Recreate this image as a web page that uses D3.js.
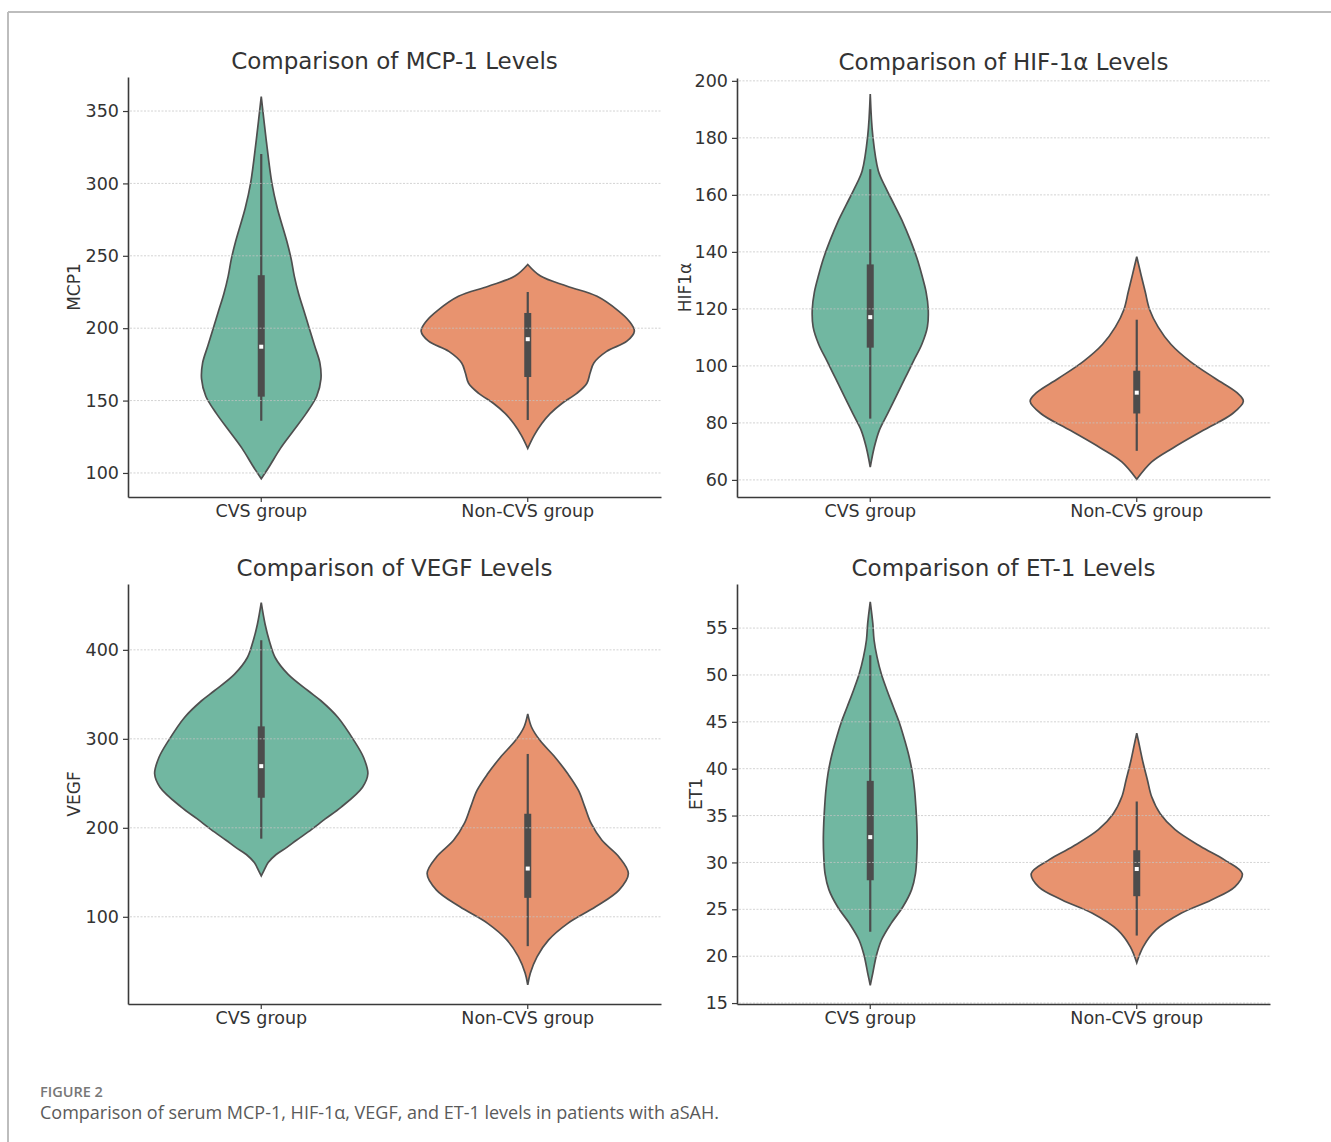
<!DOCTYPE html>
<html>
<head>
<meta charset="utf-8">
<script src="https://cdn.jsdelivr.net/npm/d3@7"></script>
<style>
  body { margin: 0; background: #fff; }
  svg { display: block; }
  .tick text { font-family: "DejaVu Sans", sans-serif; fill: #333; }
</style>
</head>
<body>
<svg id="fig" width="1331" height="1142"></svg>
<script>
const groups = ["CVS group", "Non-CVS group"];
const colors = ["#71b7a1", "#e8936f"];

// violin outlines: value levels and half-width (1 = full violin width)
const mcpCvsLevels = [96, 105, 117, 129, 141, 153, 165, 176, 188, 200, 212, 224, 236, 248, 260, 283, 300, 331, 360];
const mcpCvsWidths = [0, 0.08, 0.18, 0.30, 0.42, 0.52, 0.56, 0.55, 0.50, 0.45, 0.40, 0.35, 0.31, 0.28, 0.24, 0.15, 0.10, 0.045, 0];
const mcpNonLevels = [117, 126, 134, 141, 148, 155, 162, 169, 176, 184, 191, 198, 205, 212, 222, 229, 236, 244];
const mcpNonWidths = [0, 0.06, 0.13, 0.21, 0.32, 0.46, 0.555, 0.585, 0.62, 0.74, 0.93, 1.0, 0.95, 0.85, 0.65, 0.37, 0.12, 0];

const hifCvsLevels = [64.5, 71.2, 77.3, 83.3, 89.4, 95.5, 101.6, 107.6, 113.7, 119.8, 125.9, 131.9, 138, 144.1, 150.2, 156.3, 162.3, 168.4, 180.6, 195.4];
const hifCvsWidths = [0, 0.036, 0.084, 0.164, 0.244, 0.324, 0.404, 0.484, 0.536, 0.544, 0.524, 0.484, 0.436, 0.376, 0.308, 0.228, 0.148, 0.076, 0.024, 0];
const hifNonLevels = [60.2, 66.3, 71.2, 77.3, 83.3, 87.6, 90.6, 95.5, 101.6, 107.6, 113.7, 119.8, 125.9, 132, 138.3];
const hifNonWidths = [0, 0.14, 0.34, 0.62, 0.90, 1.0, 0.94, 0.74, 0.50, 0.32, 0.20, 0.12, 0.08, 0.04, 0];

const vegfCvsLevels = [146, 152, 161, 170, 178, 186, 198, 210, 223.3, 245.7, 260.7, 279, 298, 324, 342.8, 354, 372.7, 391.4, 410, 428.8, 453];
const vegfCvsWidths = [0, 0.025, 0.065, 0.14, 0.24, 0.33, 0.47, 0.6, 0.75, 0.95, 1.0, 0.96, 0.87, 0.72, 0.56, 0.44, 0.25, 0.13, 0.076, 0.036, 0];
const vegfNonLevels = [23.5, 36.5, 55.2, 74, 92.6, 111.2, 130, 148.6, 167.3, 186, 204.6, 223.3, 242, 260.7, 279.3, 298, 313, 328];
const vegfNonWidths = [0, 0.024, 0.088, 0.196, 0.376, 0.636, 0.856, 0.944, 0.856, 0.696, 0.596, 0.536, 0.476, 0.376, 0.256, 0.116, 0.036, 0];

const etCvsLevels = [16.9, 18.2, 20, 21.7, 23.5, 25.3, 27.1, 28.8, 30.6, 32.4, 34.2, 35.9, 37.7, 39.5, 41.3, 43, 44.8, 46.6, 48.4, 50.1, 51.9, 53.7, 55.5, 57.8];
const etCvsWidths = [0, 0.024, 0.056, 0.104, 0.196, 0.308, 0.388, 0.424, 0.436, 0.44, 0.436, 0.428, 0.416, 0.396, 0.364, 0.324, 0.276, 0.216, 0.156, 0.104, 0.064, 0.036, 0.024, 0];
const etNonLevels = [19.3, 21, 22.8, 24.6, 26, 27.4, 28.8, 30.3, 31.7, 33.5, 35.2, 37, 38.8, 40.6, 42.3, 43.8];
const etNonWidths = [0, 0.06, 0.18, 0.42, 0.70, 0.92, 0.99, 0.82, 0.60, 0.36, 0.22, 0.14, 0.10, 0.06, 0.028, 0];

// box stats per group: [whisker low, q1, median, q3, whisker high]
const mcpBox = [[136, 152.7, 187.2, 236.6, 320.3], [136.6, 166.3, 192.4, 210.5, 225]];
const hifBox = [[81.5, 106.4, 117.1, 135.6, 169], [70.2, 83.3, 90.6, 98.3, 116.2]];
const vegfBox = [[187.8, 233.8, 269.3, 314, 410.8], [67, 121.3, 154.2, 215.8, 283]];
const etBox = [[22.6, 28.1, 32.7, 38.7, 52.1], [22.2, 26.4, 29.3, 31.3, 36.5]];

const mcpTicks = [100, 150, 200, 250, 300, 350];
const hifTicks = [60, 80, 100, 120, 140, 160, 180, 200];
const vegfTicks = [100, 200, 300, 400];
const etTicks = [15, 20, 25, 30, 35, 40, 45, 50, 55];

const panels = [
  { title: "Comparison of MCP-1 Levels", ylabel: "MCP1", domain: [83.4, 373.5], ticks: mcpTicks,
    violins: [[mcpCvsLevels, mcpCvsWidths], [mcpNonLevels, mcpNonWidths]], box: mcpBox,
    left: 128, right: 661, top: 77, bottom: 497, labelX: 75 },
  { title: "Comparison of HIF-1\u03b1 Levels", ylabel: "HIF1\u03b1", domain: [54, 201], ticks: hifTicks,
    violins: [[hifCvsLevels, hifCvsWidths], [hifNonLevels, hifNonWidths]], box: hifBox,
    left: 737, right: 1270, top: 78, bottom: 497, labelX: 686 },
  { title: "Comparison of VEGF Levels", ylabel: "VEGF", domain: [2, 474], ticks: vegfTicks,
    violins: [[vegfCvsLevels, vegfCvsWidths], [vegfNonLevels, vegfNonWidths]], box: vegfBox,
    left: 128, right: 661, top: 584, bottom: 1004, labelX: 75 },
  { title: "Comparison of ET-1 Levels", ylabel: "ET1", domain: [14.9, 59.7], ticks: etTicks,
    violins: [[etCvsLevels, etCvsWidths], [etNonLevels, etNonWidths]], box: etBox,
    left: 737, right: 1270, top: 584, bottom: 1004, labelX: 697 }
];

const svg = d3.select("#fig");

// frame lines of the figure
svg.append("line").attr("x1", 8).attr("x2", 1331).attr("y1", 12).attr("y2", 12)
  .attr("stroke", "#bdbdbd").attr("stroke-width", 2);
svg.append("line").attr("x1", 8).attr("x2", 8).attr("y1", 12).attr("y2", 1142)
  .attr("stroke", "#bdbdbd").attr("stroke-width", 2);

panels.forEach(p => {
  const g = svg.append("g");
  const x = d3.scaleBand().domain(groups).range([p.left, p.right]).padding(0);
  const y = d3.scaleLinear().domain(p.domain).range([p.bottom, p.top]);
  const w = d3.scaleLinear().domain([0, 1]).range([0, x.bandwidth() * 0.4]);

  // violins
  p.violins.forEach((vl, i) => {
    const cx = x(groups[i]) + x.bandwidth() / 2;
    const pts = vl[0].map((v, k) => ({ v: v, w: vl[1][k] }));
    const area = d3.area()
      .y(d => y(d.v))
      .x0(d => cx - w(d.w))
      .x1(d => cx + w(d.w))
      .curve(d3.curveCatmullRom.alpha(0.5));
    g.append("path").attr("d", area(pts))
      .attr("fill", colors[i]).attr("stroke", "#4f4f4f").attr("stroke-width", 1.7);

    const b = p.box[i];
    g.append("line").attr("x1", cx).attr("x2", cx)
      .attr("y1", y(b[0])).attr("y2", y(b[4]))
      .attr("stroke", "#4c4c4c").attr("stroke-width", 2.2);
    g.append("rect").attr("x", cx - 3.5).attr("width", 7)
      .attr("y", y(b[3])).attr("height", y(b[1]) - y(b[3]))
      .attr("fill", "#4c4c4c");
    g.append("rect").attr("x", cx - 2).attr("width", 4)
      .attr("y", y(b[2]) - 2).attr("height", 4)
      .attr("fill", "#fff");
  });

  // grid on top, faint
  g.selectAll(".grid").data(p.ticks).enter().append("line")
    .attr("x1", p.left + 2).attr("x2", p.right)
    .attr("y1", d => y(d)).attr("y2", d => y(d))
    .attr("stroke", "#c4c4c4").attr("stroke-opacity", 0.75)
    .attr("stroke-width", 1).attr("stroke-dasharray", "2,1.5");

  const yAxis = g.append("g").attr("transform", "translate(" + p.left + ",0)")
    .call(d3.axisLeft(y).tickValues(p.ticks).tickSize(5).tickSizeOuter(0).tickPadding(4));
  const xAxis = g.append("g").attr("transform", "translate(0," + p.bottom + ")")
    .call(d3.axisBottom(x).tickSize(5).tickSizeOuter(0).tickPadding(3));
  [yAxis, xAxis].forEach(a => {
    a.select(".domain").attr("stroke", "#3a3a3a").attr("stroke-width", 1.6);
    a.selectAll(".tick line").attr("stroke", "#3a3a3a").attr("stroke-width", 1.2);
    a.selectAll(".tick text").style("font-size", "17.5px");
  });

  g.append("text")
    .attr("x", (p.left + p.right) / 2).attr("y", p.top - 8)
    .attr("text-anchor", "middle")
    .style("font-family", "DejaVu Sans, sans-serif").style("font-size", "23px").style("fill", "#333")
    .text(p.title);

  g.append("text")
    .attr("transform", "translate(" + p.labelX + "," + ((p.top + p.bottom) / 2) + ") rotate(-90)")
    .attr("text-anchor", "middle").attr("dominant-baseline", "middle")
    .style("font-family", "DejaVu Sans, sans-serif").style("font-size", "17px").style("fill", "#333")
    .text(p.ylabel);
});

svg.append("text").attr("x", 40).attr("y", 1097)
  .style("font-family", "Open Sans, sans-serif").style("font-size", "14.5px").style("font-weight", "600")
  .style("fill", "#777").text("FIGURE 2");
svg.append("text").attr("x", 40).attr("y", 1119)
  .style("font-family", "Open Sans, sans-serif").style("font-size", "18px")
  .style("fill", "#5a5a5a").text("Comparison of serum MCP-1, HIF-1\u03b1, VEGF, and ET-1 levels in patients with aSAH.");
</script>
</body>
</html>
